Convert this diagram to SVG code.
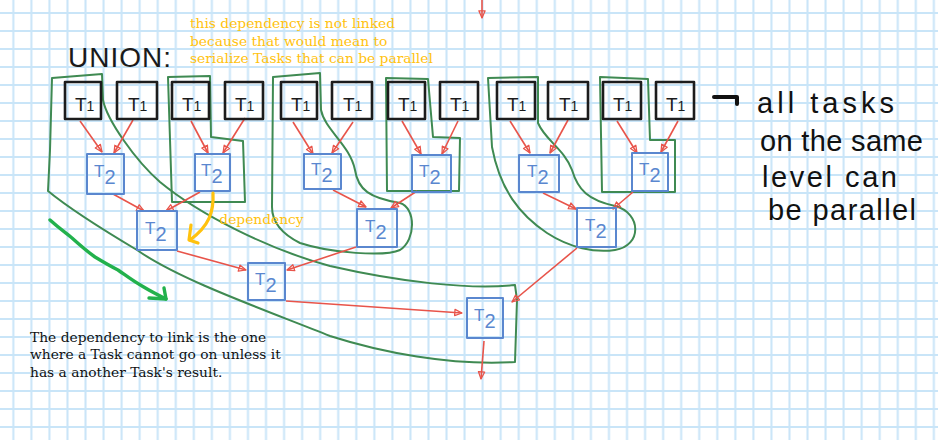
<svg xmlns="http://www.w3.org/2000/svg" width="938" height="440" viewBox="0 0 938 440">
<defs>
<pattern id="gridpat" x="4.3" y="4" width="18.05" height="18" patternUnits="userSpaceOnUse">
<rect width="18.05" height="18" fill="#ffffff"/>
<path d="M9.025,0 V18 M0,9 H18.05" stroke="#c9e5f8" stroke-width="2" fill="none"/>
</pattern>
<marker id="ah" viewBox="0 0 10 10" refX="9" refY="5" markerWidth="9" markerHeight="9" markerUnits="userSpaceOnUse" orient="auto">
<path d="M1,1.5 L9,5 L1,8.5 Z" fill="none" stroke="#e8544a" stroke-width="1.4" stroke-linejoin="round"/>
</marker>
</defs>
<style>
.t1{fill:none;stroke:#1c1c1c;stroke-width:2.6;stroke-linejoin:round}
.t2{fill:none;stroke:#5a87cf;stroke-width:2;stroke-linejoin:round}
.l1{font-family:'Liberation Sans',Arial,sans-serif;font-size:19px;fill:#1c1c1c}
.l2{font-family:'Liberation Sans',Arial,sans-serif;font-size:17px;fill:#5a87cf}
.uni{fill:none;stroke:#3f8a52;stroke-width:2;stroke-linejoin:round;stroke-linecap:round}
.dep{fill:none;stroke:#e8544a;stroke-width:1.6;marker-end:url(#ah)}
.note{font-family:'DejaVu Serif',Georgia,serif;font-size:13.8px}
.hand{font-family:'Liberation Sans',Arial,sans-serif;font-size:29px;fill:#111111}
</style>
<rect id="grid" x="0" y="0" width="938" height="440" fill="url(#gridpat)"/>

<g id="unions">
<path class="uni" d="M52,78 L102,74 L103,100 C107,120 135,160 160,182 C200,215 270,250 330,266 C400,282 470,290 515,285 L517,300 L515,362 C450,366 380,352 330,336 C260,308 180,280 137,250 C100,228 65,205 48,191 L50,150 Z"/>
<path class="uni" d="M168,77 L210,76 L211,137 L243,141 L245,202 L172,202 Z"/>
<path class="uni" d="M273,77 L320,73 L321,110 C325,130 350,145 355,170 C358,190 370,198 400,203 C416,208 416,240 400,250 C385,257 330,253 300,243 C280,233 272,220 272,207 Z"/>
<path class="uni" d="M386,78 L428,79 L433,137 L460,138 L459,191 L387,191 Z"/>
<path class="uni" d="M488,78 L538,77 L538,123 C545,140 565,150 572,170 C578,190 588,200 615,206 C642,213 642,246 615,250 C595,253 570,248 547,233 C520,215 500,190 492,147 Z"/>
<path class="uni" d="M600,77 L648,79 L650,140 L675,140 L675,192 L602,192 Z"/>
</g>

<g id="connectors">
<path class="dep" d="M482,0 L482,18"/>
<path class="dep" d="M80,121 L102,152"/>
<path class="dep" d="M133,120 L114,153"/>
<path class="dep" d="M191,121 L208,153"/>
<path class="dep" d="M245,118 L223,153"/>
<path class="dep" d="M293,122 L313,154"/>
<path class="dep" d="M353,122 L332,153"/>
<path class="dep" d="M402,121 L421,154"/>
<path class="dep" d="M458,121 L442,154"/>
<path class="dep" d="M510,121 L530,153"/>
<path class="dep" d="M568,120 L550,153"/>
<path class="dep" d="M617,121 L637,153"/>
<path class="dep" d="M678,121 L661,152"/>
<path class="dep" d="M113,194 L144,211"/>
<path class="dep" d="M200,192 L166,211"/>
<path class="dep" d="M333,190 L366,207"/>
<path class="dep" d="M417,191 L391,208"/>
<path class="dep" d="M543,193 L576,209"/>
<path class="dep" d="M633,192 L613,209"/>
<path class="dep" d="M177,251 L246,270"/>
<path class="dep" d="M356,247 L287,270"/>
<path class="dep" d="M286,301 L462,313"/>
<path class="dep" d="M577,248 L512,302"/>
<path class="dep" d="M484,341 L481,379"/>
</g>

<g id="t1-1"><rect class="t1" x="65" y="82" width="36" height="37"/><text class="l1" x="75" y="111">T<tspan font-size="14">1</tspan></text></g>
<g id="t1-2"><rect class="t1" x="117" y="82" width="40" height="37"/><text class="l1" x="128" y="111">T<tspan font-size="14">1</tspan></text></g>
<g id="t1-3"><rect class="t1" x="172" y="82" width="37" height="37"/><text class="l1" x="182" y="111">T<tspan font-size="14">1</tspan></text></g>
<g id="t1-4"><rect class="t1" x="225" y="82" width="38" height="37"/><text class="l1" x="235" y="111">T<tspan font-size="14">1</tspan></text></g>
<g id="t1-5"><rect class="t1" x="281" y="82" width="36" height="37"/><text class="l1" x="291" y="111">T<tspan font-size="14">1</tspan></text></g>
<g id="t1-6"><rect class="t1" x="332" y="82" width="40" height="37"/><text class="l1" x="343" y="111">T<tspan font-size="14">1</tspan></text></g>
<g id="t1-7"><rect class="t1" x="388" y="82" width="37" height="37"/><text class="l1" x="398" y="111">T<tspan font-size="14">1</tspan></text></g>
<g id="t1-8"><rect class="t1" x="440" y="82" width="38" height="37"/><text class="l1" x="450" y="111">T<tspan font-size="14">1</tspan></text></g>
<g id="t1-9"><rect class="t1" x="497" y="82" width="38" height="37"/><text class="l1" x="507" y="111">T<tspan font-size="14">1</tspan></text></g>
<g id="t1-10"><rect class="t1" x="548" y="82" width="40" height="37"/><text class="l1" x="559" y="111">T<tspan font-size="14">1</tspan></text></g>
<g id="t1-11"><rect class="t1" x="603" y="82" width="38" height="37"/><text class="l1" x="613" y="111">T<tspan font-size="14">1</tspan></text></g>
<g id="t1-12"><rect class="t1" x="656" y="82" width="38" height="37"/><text class="l1" x="666" y="111">T<tspan font-size="14">1</tspan></text></g>

<g id="t2-a"><rect class="t2" x="87" y="154" width="37" height="40"/><text class="l2" x="94" y="177">T<tspan font-size="20" dy="7">2</tspan></text></g>
<g id="t2-b"><rect class="t2" x="195" y="154" width="35" height="37"/><text class="l2" x="201" y="176">T<tspan font-size="20" dy="7">2</tspan></text></g>
<g id="t2-c"><rect class="t2" x="304" y="154" width="37" height="35"/><text class="l2" x="311" y="175">T<tspan font-size="20" dy="7">2</tspan></text></g>
<g id="t2-d"><rect class="t2" x="412" y="155" width="39" height="37"/><text class="l2" x="419" y="177">T<tspan font-size="20" dy="7">2</tspan></text></g>
<g id="t2-e"><rect class="t2" x="519" y="155" width="40" height="37"/><text class="l2" x="527" y="177">T<tspan font-size="20" dy="7">2</tspan></text></g>
<g id="t2-f"><rect class="t2" x="632" y="153" width="36" height="38"/><text class="l2" x="639" y="175">T<tspan font-size="20" dy="7">2</tspan></text></g>
<g id="t2-g"><rect class="t2" x="137" y="211" width="40" height="39"/><text class="l2" x="145" y="234">T<tspan font-size="20" dy="7">2</tspan></text></g>
<g id="t2-h"><rect class="t2" x="357" y="209" width="40" height="38"/><text class="l2" x="365" y="232">T<tspan font-size="20" dy="7">2</tspan></text></g>
<g id="t2-k"><rect class="t2" x="577" y="208" width="39" height="39"/><text class="l2" x="585" y="231">T<tspan font-size="20" dy="7">2</tspan></text></g>
<g id="t2-i"><rect class="t2" x="248" y="263" width="37" height="37"/><text class="l2" x="255" y="285">T<tspan font-size="20" dy="7">2</tspan></text></g>
<g id="t2-j"><rect class="t2" x="467" y="298" width="36" height="40"/><text class="l2" x="474" y="321">T<tspan font-size="20" dy="7">2</tspan></text></g>

<g id="title"><text x="68" y="67" font-family="'Liberation Sans',Arial,sans-serif" font-size="28" fill="#1a1a1a" textLength="103" lengthAdjust="spacing">UNION:</text></g>

<g id="note-unlinked">
<text class="note" fill="#ffc20e"><tspan x="190" y="28.3">this dependency is not linked</tspan><tspan x="190" y="45.7">because that would mean to</tspan><tspan x="190" y="63.3">serialize Tasks that can be parallel</tspan></text>
</g>

<g id="note-dependency">
<path d="M213,193 C214,212 209,226 190,240" fill="none" stroke="#ffc20e" stroke-width="3.2" stroke-linecap="round"/>
<path d="M191,225 L189,240 L198,243" fill="none" stroke="#ffc20e" stroke-width="3.2" stroke-linecap="round" stroke-linejoin="round"/>
<text class="note" fill="#ffc20e" x="219.3" y="224">dependency</text>
</g>

<g id="green-arrow">
<path d="M50,220 C60,229 66,233 72,238 C82,247 88,252 95,257 C105,263 110,266 118,270 C128,277 133,281 142,286 C152,292 158,295 166,299" fill="none" stroke="#22b14c" stroke-width="3.4" stroke-linecap="round" stroke-linejoin="round"/>
<path d="M149,298 L166,299 L164,288" fill="none" stroke="#22b14c" stroke-width="3.4" stroke-linecap="round" stroke-linejoin="round"/>
</g>

<g id="note-link">
<text class="note" fill="#111111"><tspan x="30" y="341.7">The dependency to link is the one</tspan><tspan x="30" y="359.4">where a Task cannot go on unless it</tspan><tspan x="30" y="377">has a another Task's result.</tspan></text>
</g>

<g id="note-parallel">
<path d="M714,97 L737,97 L737,104" fill="none" stroke="#111111" stroke-width="4" stroke-linecap="round" stroke-linejoin="round"/>
<text class="hand" x="757" y="113" textLength="137" lengthAdjust="spacing">all tasks</text>
<text class="hand" x="760" y="151" textLength="163" lengthAdjust="spacing">on the same</text>
<text class="hand" x="762" y="187" textLength="135" lengthAdjust="spacing">level can</text>
<text class="hand" x="768" y="220" textLength="148" lengthAdjust="spacing">be parallel</text>
</g>
</svg>
